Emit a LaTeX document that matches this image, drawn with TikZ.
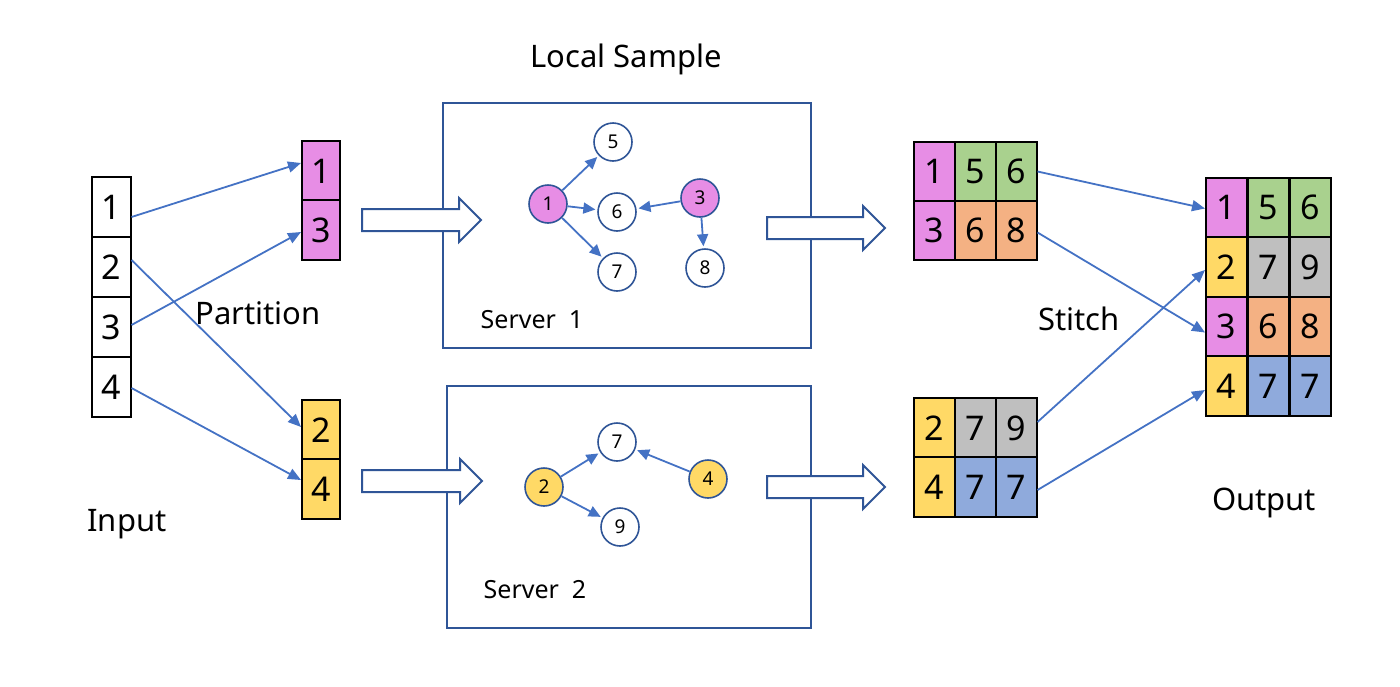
\documentclass[tikz,border=0pt]{standalone}
\usepackage{fontspec}
\setmainfont{Noto Sans}
\usetikzlibrary{arrows.meta,calc}
\definecolor{cpink}{RGB}{231,141,229}
\definecolor{cyellow}{RGB}{255,217,102}
\definecolor{cgreen}{RGB}{169,209,142}
\definecolor{corange}{RGB}{244,177,131}
\definecolor{cgray}{RGB}{191,191,191}
\definecolor{cbluecell}{RGB}{143,170,220}
\definecolor{cblue}{RGB}{68,114,196}
\definecolor{cdark}{RGB}{47,85,151}
\newcommand\blockarrow[3]{%
  \draw[barrow] (#1,#3-11) -- (#2-22,#3-11) -- (#2-22,#3-22) -- (#2,#3) -- (#2-22,#3+22) -- (#2-22,#3+11) -- (#1,#3+11) -- cycle;}
\begin{document}
\begin{tikzpicture}[x=0.5pt,y=-0.5pt,
  cell/.style={draw=black,line width=1pt,inner sep=0pt,minimum width=20.5pt,minimum height=29.75pt,font=\fontsize{17}{20}\selectfont},
  conn/.style={draw=cblue,line width=0.9pt,-{Triangle[length=6.5pt,width=5.5pt]}},
  gnode/.style={circle,draw=cdark,line width=0.8pt,minimum size=19pt,inner sep=0pt,font=\fontsize{9.5}{11}\selectfont,fill=white},
  gedge/.style={draw=cblue,line width=0.9pt,-{Triangle[length=6pt,width=5.5pt]},shorten >=1pt},
  sbox/.style={draw=cdark,line width=1pt,inner sep=0pt},
  barrow/.style={draw=cdark,line width=1pt,fill=white,line join=miter},
  lbl/.style={font=\fontsize{15.5}{18}\selectfont,inner sep=0pt},
  slbl/.style={font=\fontsize{12.5}{15}\selectfont,inner sep=0pt}]
\useasboundingbox (0,0) rectangle (1400,686);

% Input column
\node[cell,minimum width=19.5pt,minimum height=30pt] (in1) at (111,207) {1};
\node[cell,minimum width=19.5pt,minimum height=30pt] (in2) at (111,267) {2};
\node[cell,minimum width=19.5pt,minimum height=30pt] (in3) at (111,327) {3};
\node[cell,minimum width=19.5pt,minimum height=30pt] (in4) at (111,387) {4};

% Partitions
\node[cell,fill=cpink,minimum width=19pt] (pa1) at (321,171) {1};
\node[cell,fill=cpink,minimum width=19pt] (pa3) at (321,230) {3};
\node[cell,fill=cyellow,minimum width=19pt] (pb2) at (321,430) {2};
\node[cell,fill=cyellow,minimum width=19pt] (pb4) at (321,489) {4};

\draw[conn] ($(in1.east)+(0,10)$) -- ($(pa1.west)+(0,-8)$);
\draw[conn] ($(in2.east)+(0,-7)$) -- ($(pb2.west)+(0,-3)$);
\draw[conn] ($(in3.east)+(0,-2)$) -- ($(pa3.west)+(0,2)$);
\draw[conn] ($(in4.east)+(0,1)$) -- ($(pb4.west)+(0,-9)$);

% Labels
\node[lbl] (linput) at (127,524) {Input};
\node[lbl] (lpart) at (258,313) {Partition};
\node[lbl] (llocal) at (626,59) {Local Sample};
\node[lbl] (lstitch) at (1079,319) {Stitch};
\node[lbl] (loutput) at (1264,503) {Output};

% Server boxes
\node[sbox,minimum width=184pt,minimum height=122.5pt] (srv1) at (627,225.5) {};
\node[sbox,minimum width=182pt,minimum height=121pt] (srv2) at (629,507) {};
\node[slbl] (ls1) at (532,320) {Server\ \ 1};
\node[slbl] (ls2) at (535,590) {Server\ \ 2};

% Block arrows
\blockarrow{362}{481}{220}
\blockarrow{767}{885}{228}
\blockarrow{362}{482}{481}
\blockarrow{767}{885}{487}

% Server 1 graph
\node[gnode,fill=cpink] (g1) at (548,204) {1};
\node[gnode] (g5) at (613,142) {5};
\node[gnode] (g6) at (617,212) {6};
\node[gnode] (g7) at (617,272) {7};
\node[gnode,fill=cpink] (g3) at (700,198) {3};
\node[gnode] (g8) at (705,268) {8};
\draw[gedge] (g1) -- (g5);
\draw[gedge] (g1) -- (g6);
\draw[gedge] (g1) -- (g7);
\draw[gedge] (g3) -- (g6);
\draw[gedge] (g3) -- (g8);

% Server 2 graph
\node[gnode,fill=cyellow] (h2) at (544,487) {2};
\node[gnode] (h7) at (617,442) {7};
\node[gnode] (h9) at (620,527) {9};
\node[gnode,fill=cyellow] (h4) at (708,479) {4};
\draw[gedge] (h2) -- (h7);
\draw[gedge] (h2) -- (h9);
\draw[gedge] (h4) -- (h7);

% Stitch tables
\node[cell,fill=cpink] (sa11) at (934,171.5) {1};
\node[cell,fill=cgreen] (sa12) at (975.5,171.5) {5};
\node[cell,fill=cgreen] (sa13) at (1016,171.5) {6};
\node[cell,fill=cpink] (sa21) at (934,230.5) {3};
\node[cell,fill=corange] (sa22) at (975.5,230.5) {6};
\node[cell,fill=corange] (sa23) at (1016,230.5) {8};

\node[cell,fill=cyellow] (sb11) at (934,428) {2};
\node[cell,fill=cgray] (sb12) at (975.5,428) {7};
\node[cell,fill=cgray] (sb13) at (1016,428) {9};
\node[cell,fill=cyellow] (sb21) at (934,487) {4};
\node[cell,fill=cbluecell] (sb22) at (975.5,487) {7};
\node[cell,fill=cbluecell] (sb23) at (1016,487) {7};

% Output table
\node[cell,fill=cpink] (o11) at (1226.5,207.5) {1};
\node[cell,fill=cgreen] (o12) at (1268,207.5) {5};
\node[cell,fill=cgreen] (o13) at (1310,207.5) {6};
\node[cell,fill=cyellow] (o21) at (1226.5,267) {2};
\node[cell,fill=cgray] (o22) at (1268,267) {7};
\node[cell,fill=cgray] (o23) at (1310,267) {9};
\node[cell,fill=cpink] (o31) at (1226.5,326.5) {3};
\node[cell,fill=corange] (o32) at (1268,326.5) {6};
\node[cell,fill=corange] (o33) at (1310,326.5) {8};
\node[cell,fill=cyellow] (o41) at (1226.5,386) {4};
\node[cell,fill=cbluecell] (o42) at (1268,386) {7};
\node[cell,fill=cbluecell] (o43) at (1310,386) {7};

\draw[conn] (sa13.east) -- ($(o11.west)+(0,1)$);
\draw[conn] ($(sa23.east)+(0,2)$) -- ($(o31.west)+(0,6)$);
\draw[conn] ($(sb13.east)+(0,-6)$) -- ($(o21.west)+(0,3)$);
\draw[conn] ($(sb23.east)+(0,3)$) -- ($(o41.west)+(0,4)$);
\end{tikzpicture}
\end{document}
